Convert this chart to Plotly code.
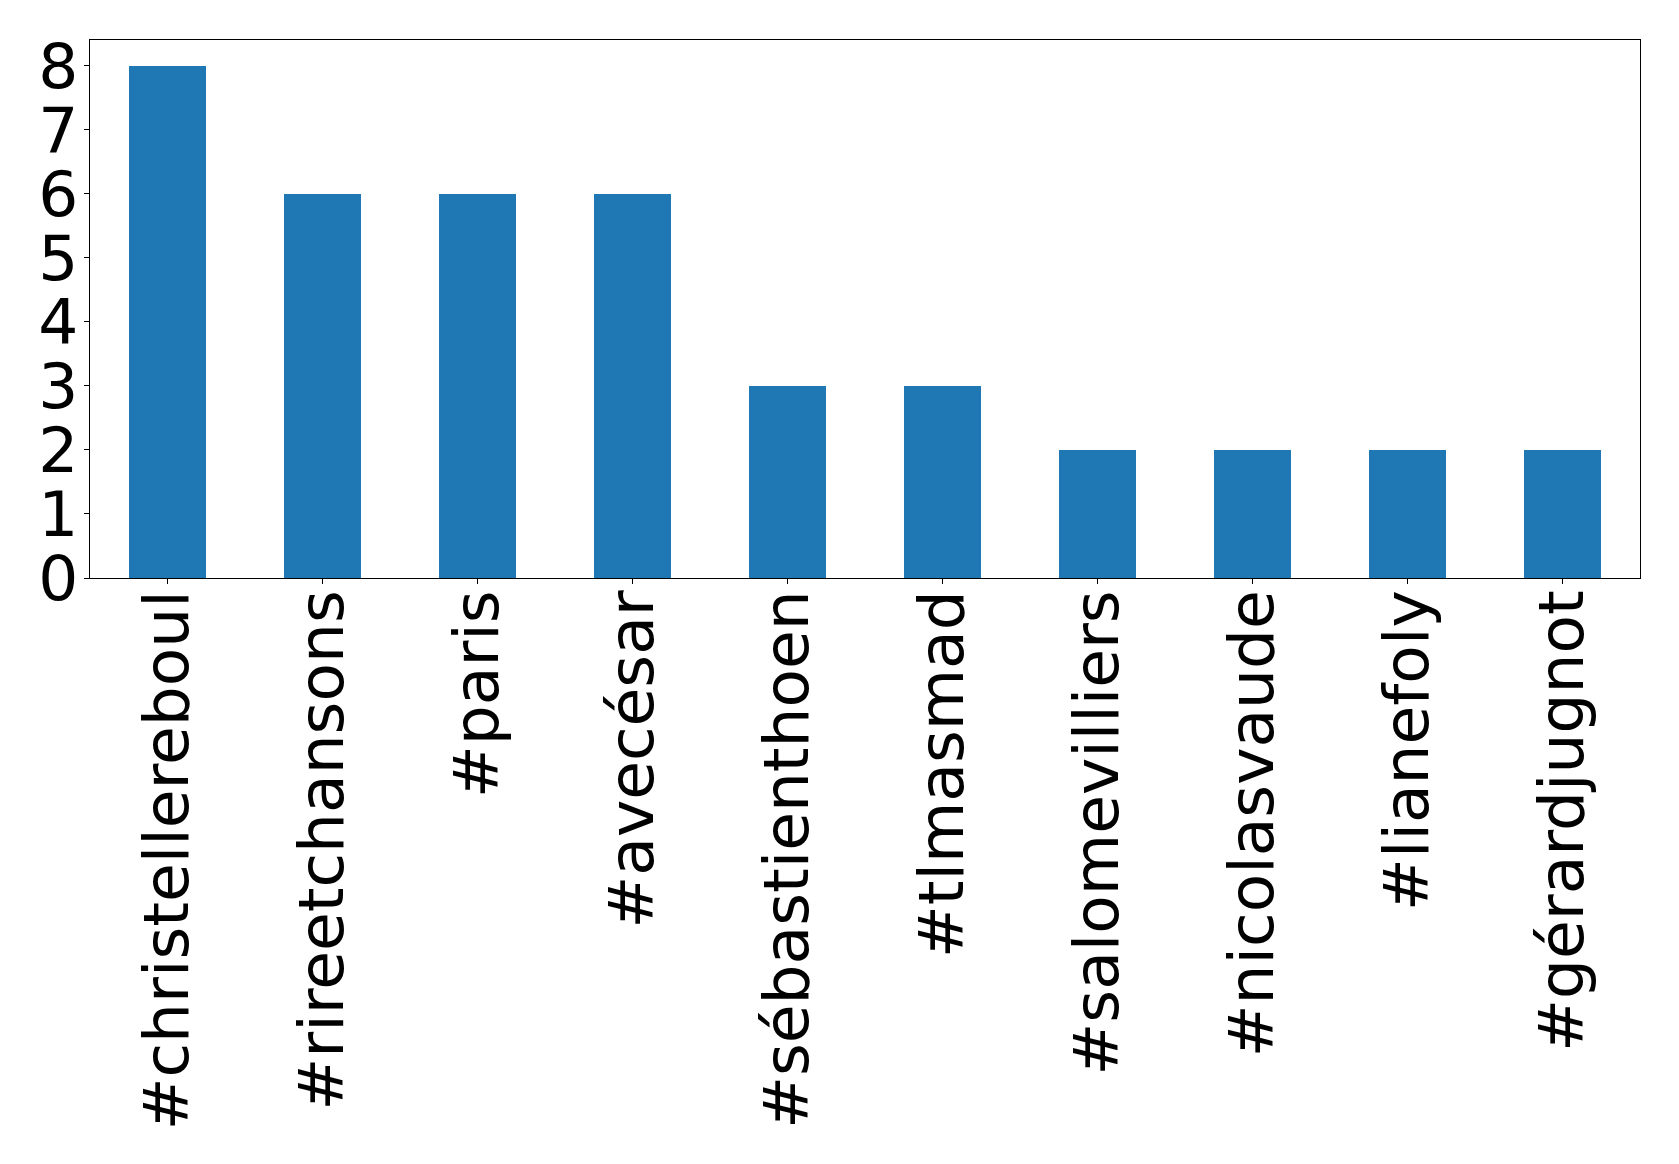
import plotly.graph_objects as go

categories = ["#christellereboul", "#rireetchansons", "#paris", "#avecésar",
              "#sébastienthoen", "#tlmasmad", "#salomevilliers", "#nicolasvaude",
              "#lianefoly", "#gérardjugnot"]
counts = [8, 6, 6, 6, 3, 3, 2, 2, 2, 2]
y_ticks = [0, 1, 2, 3, 4, 5, 6, 7, 8]

fig = go.Figure(go.Bar(x=list(range(len(categories))), y=counts, width=0.5,
                       marker=dict(color="#1f77b4", line=dict(width=0))))

font = dict(family="DejaVu Sans", size=63, color="black")
fig.update_layout(
    width=1671, height=1156,
    margin=dict(l=82, r=39, t=32, b=586),
    paper_bgcolor="white", plot_bgcolor="white",
    showlegend=False, bargap=0,
    font=font,
)
fig.update_xaxes(
    range=[-0.5, len(categories) - 0.5], automargin=False,
    tickmode="array", tickvals=list(range(len(categories))), ticktext=categories,
    tickangle=-90, ticks="outside", ticklen=5, tickcolor="black", tickwidth=1,
    ticklabelstandoff=-19,
    showline=True, linecolor="black", linewidth=1.2, mirror=True,
    showgrid=False, zeroline=False, tickfont=font,
)
fig.update_yaxes(
    range=[0, 8.4], automargin=False,
    tickmode="array", tickvals=y_ticks, ticktext=[str(v) for v in y_ticks],
    ticks="outside", ticklen=5, tickcolor="black", tickwidth=1,
    ticklabelstandoff=-7,
    showline=True, linecolor="black", linewidth=1.2, mirror=True,
    showgrid=False, zeroline=False, tickfont=font,
)
fig.write_html("out.html")
